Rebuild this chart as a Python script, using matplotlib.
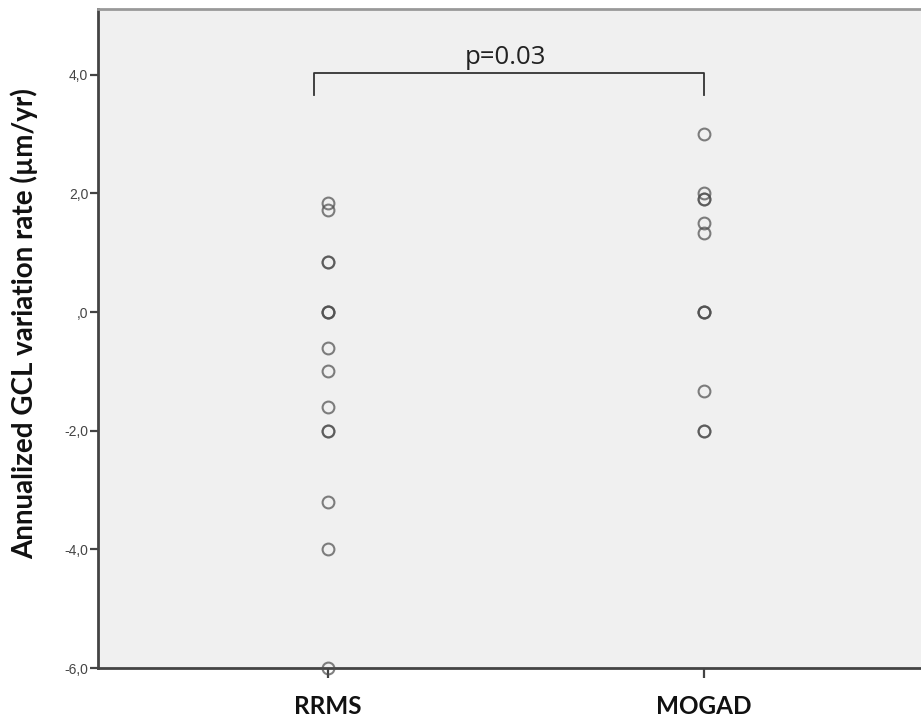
import matplotlib
matplotlib.use("Agg")
import matplotlib.pyplot as plt

groups = ["RRMS", "MOGAD"]
rrms_values = [1.84, 1.72, 0.85, 0.85, 0.0, 0.0, 0.0, -0.6, -1.0, -1.6, -2.0, -2.0, -3.2, -4.0, -6.0]
mogad_values = [3.0, 2.0, 1.9, 1.9, 1.5, 1.33, 0.0, 0.0, 0.0, -1.33, -2.0, -2.0]
y_ticks = [-6, -4, -2, 0, 2, 4]
y_ticklabels = ["-6,0", "-4,0", "-2,0", ",0", "2,0", "4,0"]
p_text = "p=0.03"
bracket_top = 4.03
bracket_bottom = 3.66

fig = plt.figure(figsize=(9.21, 7.17), dpi=100)
ax = fig.add_axes([98/921, (717-668)/717, (921-98)/921, (668-9)/717])
ax.set_facecolor("#f0f0f0")

for i, vals in enumerate([rrms_values, mogad_values]):
    ax.plot([i]*len(vals), vals, linestyle="none", marker="o", markersize=8.5,
            markerfacecolor="none", markeredgecolor="#505050", markeredgewidth=1.5,
            alpha=0.72, clip_on=False, zorder=3)

ax.set_xlim(-0.612, 1.577)
ax.set_ylim(-6, 5.11)

ax.plot([-0.037, -0.037, 1.0, 1.0], [bracket_bottom, bracket_top, bracket_top, bracket_bottom],
        color="#333333", lw=1.3)
ax.text(0.473, bracket_top + 0.05, p_text, ha="center", va="bottom", fontsize=18.5,
        family="Open Sans", color="#222222")

ax.set_xticks(range(len(groups)))
ax.set_xticklabels(groups, fontsize=17.5, fontweight="bold", family="Lato", color="#111111")
ax.set_yticks(y_ticks)
ax.set_yticklabels(y_ticklabels, fontsize=10, color="#444444", family="Liberation Sans")
ax.tick_params(axis="x", length=7.2, width=1.6, color="#444444", pad=12)
ax.tick_params(axis="y", length=6, width=1.6, color="#444444", pad=1)

fig.text(24/921, 1 - 323.5/717, "Annualized GCL variation rate (µm/yr)", rotation=90,
         ha="center", va="center", fontsize=20, fontweight="bold", family="Lato",
         color="#111111")

for s in ["left", "bottom"]:
    ax.spines[s].set_color("#444444")
    ax.spines[s].set_linewidth(2)
ax.spines["top"].set_color("#999999")
ax.spines["top"].set_linewidth(2)
ax.spines["right"].set_visible(False)

fig.savefig("out.png", dpi=100, facecolor="white")
